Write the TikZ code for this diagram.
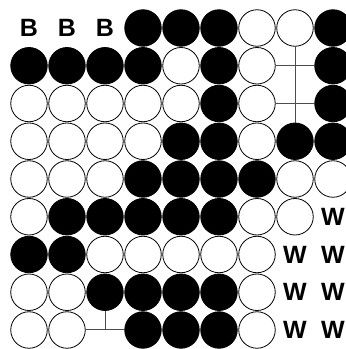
\documentclass[tikz,border=0pt]{standalone}
\usepackage{fontspec}
\setsansfont{Liberation Sans}
\usetikzlibrary{positioning}

\begin{document}
\begin{tikzpicture}[
    x=1pt, y=1pt,
    stone/.style={circle, inner sep=0pt, minimum size=36.5pt, line width=0.8pt},
    cell-b/.style={stone, fill=black, draw=black, node contents={}},
    cell-w/.style={stone, fill=white, draw=black, node contents={}},
    cell-e/.style={inner sep=0pt, minimum size=0pt, node contents={}},
    letter/.style={inner sep=0pt, font=\sffamily\bfseries\fontsize{25}{25}\selectfont},
    cell-B/.style={letter, node contents={B}},
    cell-W/.style={letter, node contents={W}},
    gridline/.style={line width=1pt, black!70}
]
\clip (0,0) rectangle (346,349);
\useasboundingbox (0,0) rectangle (346,349);

% board, row by row from the top
\foreach \row [count=\r] in {
    {B,B,B,b,b,b,w,w,b},
    {b,b,b,b,w,b,w,e,b},
    {w,w,w,w,w,b,w,e,b},
    {w,w,w,w,b,b,w,b,b},
    {w,w,w,b,b,b,b,w,w},
    {w,b,b,b,b,b,w,w,W},
    {b,b,w,w,w,w,w,W,W},
    {w,w,b,b,b,b,w,W,W},
    {w,w,e,b,b,b,w,W,W}}
  \foreach \s [count=\c] in \row
    \node[cell-\s, name=p-\r-\c, at={({29+38*(\c-1)}, {321-37.75*(\r-1)})}];

% visible board lines at empty points
\draw[gridline] (p-1-8) -- (p-4-8);
\draw[gridline] (p-2-7) -- (p-2-9);
\draw[gridline] (p-3-7) -- (p-3-9);
\draw[gridline] (p-8-3) -- (p-9-3);
\draw[gridline] (p-9-2) -- (p-9-4);

\end{tikzpicture}
\end{document}
